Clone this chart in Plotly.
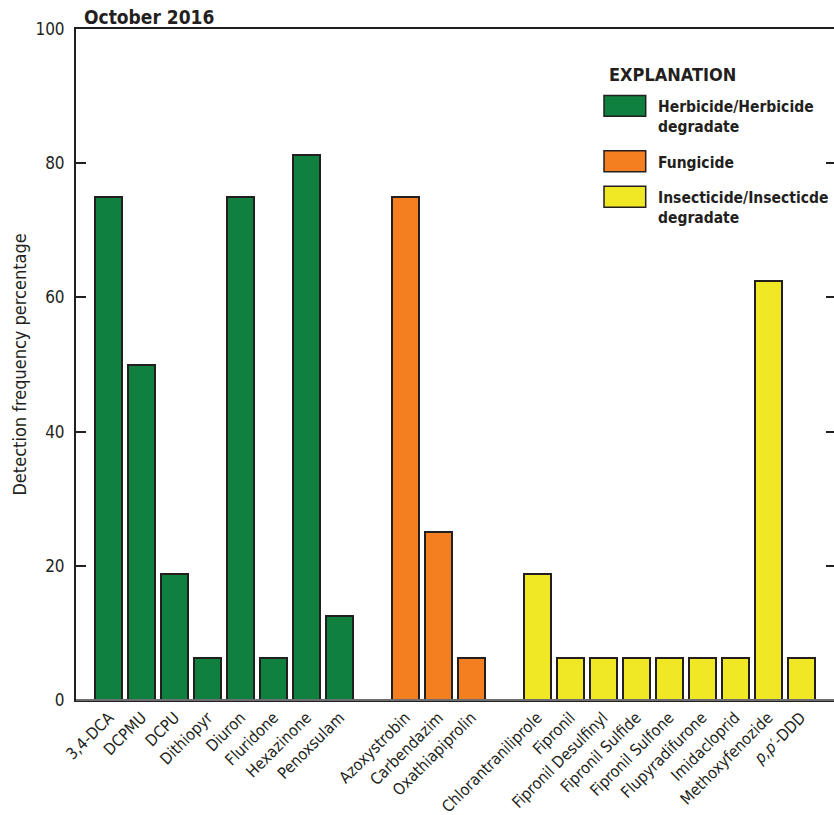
import plotly.graph_objects as go

# Detection frequency (percent of samples) by compound, October 2016
herbicides = ["3,4-DCA", "DCPMU", "DCPU", "Dithiopyr", "Diuron", "Fluridone", "Hexazinone", "Penoxsulam"]
herbicide_pct = [75.0, 50.0, 18.75, 6.25, 75.0, 6.25, 81.25, 12.5]

fungicides = ["Azoxystrobin", "Carbendazim", "Oxathiapiprolin"]
fungicide_pct = [75.0, 25.0, 6.25]

insecticides = ["Chlorantraniliprole", "Fipronil", "Fipronil Desulfinyl", "Fipronil Sulfide",
                "Fipronil Sulfone", "Flupyradifurone", "Imidacloprid", "Methoxyfenozide",
                "<i>p,p</i>′-DDD"]
insecticide_pct = [18.75, 6.25, 6.25, 6.25, 6.25, 6.25, 6.25, 62.5, 6.25]

y_ticks = [0, 20, 40, 60, 80, 100]

groups = [
    ("Herbicide/Herbicide<br>degradate", herbicides, herbicide_pct, "#10803f"),
    ("Fungicide", fungicides, fungicide_pct, "#f47f20"),
    ("Insecticide/Insecticde<br>degradate", insecticides, insecticide_pct, "#f0e824"),
]

FONT = "DejaVu Sans Condensed, Liberation Sans Narrow, sans-serif"
INK = "#231f20"

W, H = 834, 815
L, R, T, B = 76, 834, 29.3, 700.5


def px_x(p):
    return (p - L) / (R - L)


def px_y(p):
    return (B - p) / (B - T)


fig = go.Figure()

# one empty slot between groups
pos = 0
tickvals, ticktext = [], []
for name, cats, vals, color in groups:
    xs = list(range(pos, pos + len(cats)))
    fig.add_trace(go.Bar(
        x=xs, y=vals, name=name, width=0.82,
        marker=dict(color=color, line=dict(color=INK, width=2)),
        showlegend=False,
    ))
    tickvals += xs
    ticktext += cats
    pos += len(cats) + 1

# carrier for the right-hand tick axis
fig.add_trace(go.Scatter(x=[], y=[], yaxis="y2", showlegend=False))

fig.update_layout(
    width=W, height=H,
    margin=dict(l=L, r=W - R, t=T, b=H - B, autoexpand=False),
    paper_bgcolor="white", plot_bgcolor="white",
    font=dict(family=FONT, color=INK, size=16),
    bargap=0,
    xaxis=dict(
        range=[-1, 22], tickvals=tickvals, ticktext=ticktext, tickangle=-45,
        showline=True, linecolor=INK, linewidth=2, mirror=True,
        showgrid=False, zeroline=False, ticks="", automargin=False,
        tickfont=dict(family=FONT, size=16, color=INK),
    ),
    yaxis=dict(
        range=[0, 100], tickvals=y_ticks, showline=True, linecolor=INK, linewidth=2,
        ticks="inside", ticklen=10, tickwidth=1.5, tickcolor=INK,
        showgrid=False, zeroline=False, automargin=False,
        tickfont=dict(family=FONT, size=17, color=INK),
        ticklabelstandoff=6,
    ),
    yaxis2=dict(
        range=[0, 100], tickvals=y_ticks, overlaying="y", side="right",
        showline=False, showticklabels=False, showgrid=False, zeroline=False,
        ticks="inside", ticklen=8, tickwidth=1.5, tickcolor=INK, automargin=False,
    ),
)

# bottom axis drawn in grey over the black frame
fig.add_shape(type="line", xref="paper", yref="paper", x0=0, x1=1, y0=0, y1=0,
              line=dict(color="#6d6e71", width=2))

# title and axis label
fig.add_annotation(
    text="<b>October 2016</b>", xref="paper", yref="paper",
    x=px_x(82), y=px_y(30), xanchor="left", yanchor="bottom",
    showarrow=False, font=dict(family=FONT, size=19, color=INK),
)
fig.add_annotation(
    text="Detection frequency percentage", xref="paper", yref="paper",
    x=px_x(20), y=px_y(365), textangle=-90, xanchor="center", yanchor="middle",
    showarrow=False, font=dict(family=FONT, size=18, color=INK),
)

# explanation box
fig.add_annotation(
    text="<b>EXPLANATION</b>", xref="paper", yref="paper",
    x=px_x(607), y=px_y(75), xanchor="left", yanchor="middle",
    showarrow=False, font=dict(family=FONT, size=18, color=INK),
)
swatch_tops = [95.7, 151, 186.7]
for (name, _, _, color), top in zip(groups, swatch_tops):
    fig.add_shape(
        type="rect", xref="paper", yref="paper",
        x0=px_x(604), x1=px_x(645.7), y0=px_y(top + 21), y1=px_y(top),
        fillcolor=color, line=dict(color=INK, width=1.5),
    )
    fig.add_annotation(
        text="<b>" + name.replace("<br>", "</b><br><b>") + "</b>",
        xref="paper", yref="paper",
        x=px_x(656), y=px_y(top + 1), xanchor="left", yanchor="top", align="left",
        showarrow=False, font=dict(family=FONT, size=15.5, color=INK),
    )

fig.write_html("out.html")
